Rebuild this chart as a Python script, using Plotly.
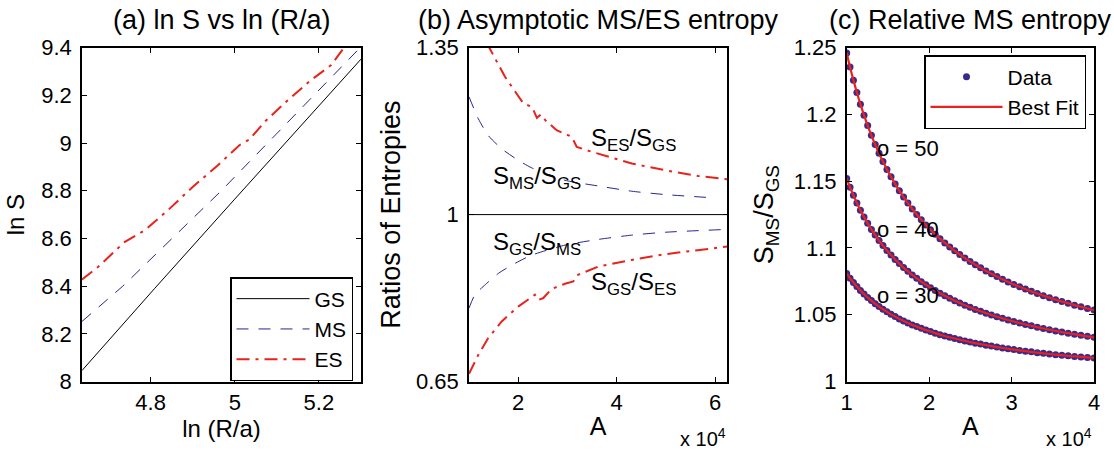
import plotly.graph_objects as go

W, H = 1114, 454
FONT = "Liberation Sans"
BLUE = "#28268c"
RED = "#e8221c"
DOT = "#3b2a8c"

# ---------------- Panel (a): ln S vs ln(R/a) ----------------
lnR_gs = [4.637, 4.809, 5.000, 5.300]
lnS_gs = [8.046, 8.389, 8.765, 9.352]
lnR_ms = [4.637, 4.734, 4.968, 5.300]
lnS_ms = [8.252, 8.400, 8.800, 9.404]
lnR_es = [4.637, 4.675, 4.738, 4.786, 4.841, 4.900, 4.960, 5.011, 5.035,
          5.071, 5.126, 5.181, 5.229, 5.261, 5.300]
lnS_es = [8.428, 8.480, 8.585, 8.634, 8.718, 8.816, 8.907, 8.991, 9.015,
          9.089, 9.180, 9.264, 9.327, 9.404, 9.470]

# ---------------- Panel (b): asymptotic ratios (A in units of 1e4) ----------------
A_es_gs = [1.36, 1.596, 1.732, 2.105, 2.28, 2.38, 2.46, 2.55, 2.78, 3.09,
           3.19, 3.39, 3.83, 4.31, 4.99, 5.66, 6.25]
r_es_gs = [1.360, 1.313, 1.289, 1.233, 1.226, 1.203, 1.210, 1.198, 1.177, 1.163,
           1.142, 1.135, 1.121, 1.107, 1.093, 1.081, 1.074]
A_ms_gs = [1.0, 1.19, 1.39, 1.665, 2.0, 2.275, 2.95, 3.63, 4.31, 4.99, 6.0]
r_ms_gs = [1.247, 1.201, 1.166, 1.138, 1.114, 1.098, 1.072, 1.060, 1.049, 1.042, 1.035]
A_gs_ms = [1.0, 1.12, 1.33, 1.6, 1.94, 2.275, 2.95, 3.63, 4.31, 4.99, 6.25]
r_gs_ms = [0.804, 0.832, 0.853, 0.877, 0.898, 0.915, 0.936, 0.948, 0.957, 0.963, 0.969]
A_gs_es = [1.0, 1.19, 1.39, 1.665, 2.0, 2.34, 2.41, 2.51, 2.68, 2.95, 3.12,
           3.20, 3.63, 4.31, 4.99, 5.66, 6.25]
r_gs_es = [0.666, 0.706, 0.741, 0.776, 0.807, 0.832, 0.821, 0.825, 0.844, 0.855, 0.860,
           0.873, 0.891, 0.905, 0.917, 0.926, 0.933]

# ---------------- Panel (c): relative MS entropy (A in units of 1e4) ----------------
A_c = [1.0000, 1.0404, 1.0816, 1.1236, 1.1664, 1.2100, 1.2544, 1.2996, 1.3456, 1.3924,
       1.4400, 1.4884, 1.5376, 1.5876, 1.6384, 1.6900, 1.7424, 1.7956, 1.8496, 1.9044,
       1.9600, 2.0164, 2.0736, 2.1316, 2.1904, 2.2500, 2.3104, 2.3716, 2.4336, 2.4964,
       2.5600, 2.6244, 2.6896, 2.7556, 2.8224, 2.8900, 2.9584, 3.0276, 3.0976, 3.1684,
       3.2400, 3.3124, 3.3856, 3.4596, 3.5344, 3.6100, 3.6864, 3.7636, 3.8416, 3.9204,
       4.0000]
ratio_o50 = [1.2460, 1.2355, 1.2257, 1.2164, 1.2077, 1.1995, 1.1917, 1.1844, 1.1775, 1.1709,
             1.1647, 1.1588, 1.1533, 1.1480, 1.1429, 1.1381, 1.1336, 1.1292, 1.1251, 1.1211,
             1.1173, 1.1137, 1.1103, 1.1070, 1.1038, 1.1008, 1.0979, 1.0951, 1.0925, 1.0899,
             1.0875, 1.0851, 1.0828, 1.0807, 1.0786, 1.0765, 1.0746, 1.0727, 1.0709, 1.0692,
             1.0675, 1.0659, 1.0643, 1.0628, 1.0613, 1.0599, 1.0586, 1.0572, 1.0560, 1.0547,
             1.0535]
ratio_o40 = [1.1520, 1.1455, 1.1394, 1.1337, 1.1283, 1.1232, 1.1185, 1.1139, 1.1097, 1.1056,
             1.1018, 1.0981, 1.0947, 1.0914, 1.0883, 1.0853, 1.0825, 1.0798, 1.0773, 1.0748,
             1.0725, 1.0703, 1.0681, 1.0661, 1.0642, 1.0623, 1.0605, 1.0588, 1.0571, 1.0556,
             1.0540, 1.0526, 1.0512, 1.0498, 1.0485, 1.0473, 1.0461, 1.0449, 1.0438, 1.0427,
             1.0417, 1.0407, 1.0397, 1.0388, 1.0379, 1.0370, 1.0362, 1.0354, 1.0346, 1.0338,
             1.0331]
ratio_o30 = [1.0808, 1.0774, 1.0741, 1.0711, 1.0682, 1.0655, 1.0630, 1.0606, 1.0583, 1.0561,
             1.0541, 1.0522, 1.0503, 1.0486, 1.0469, 1.0454, 1.0439, 1.0424, 1.0411, 1.0398,
             1.0385, 1.0374, 1.0362, 1.0351, 1.0341, 1.0331, 1.0322, 1.0313, 1.0304, 1.0295,
             1.0287, 1.0280, 1.0272, 1.0265, 1.0258, 1.0251, 1.0245, 1.0239, 1.0233, 1.0227,
             1.0222, 1.0216, 1.0211, 1.0206, 1.0201, 1.0197, 1.0192, 1.0188, 1.0184, 1.0180,
             1.0176]
sigma_labels = ["o = 50", "o = 40", "o = 30"]


def px(x):
    return x / W


def py(y):
    return 1 - y / H


ES_DASH = "13px,6px,3px,6px"
MS_DASH = "12px,10px"

fig = go.Figure()

# panel a
fig.add_trace(go.Scatter(x=lnR_gs, y=lnS_gs, mode="lines", name="GS",
                         line=dict(color="black", width=1), xaxis="x", yaxis="y"))
fig.add_trace(go.Scatter(x=lnR_ms, y=lnS_ms, mode="lines", name="MS",
                         line=dict(color=BLUE, width=1, dash=MS_DASH), xaxis="x", yaxis="y"))
fig.add_trace(go.Scatter(x=lnR_es, y=lnS_es, mode="lines", name="ES",
                         line=dict(color=RED, width=2, dash=ES_DASH), xaxis="x", yaxis="y"))

# panel b
for xs, ys, col, w, d in [
    (A_ms_gs, r_ms_gs, BLUE, 1, MS_DASH),
    (A_gs_ms, r_gs_ms, BLUE, 1, MS_DASH),
    (A_es_gs, r_es_gs, RED, 2, ES_DASH),
    (A_gs_es, r_gs_es, RED, 2, ES_DASH),
]:
    fig.add_trace(go.Scatter(x=xs, y=ys, mode="lines", showlegend=False,
                             line=dict(color=col, width=w, dash=d,
                                       shape="spline" if col == BLUE else "linear",
                                       smoothing=0.6),
                             xaxis="x2", yaxis="y2"))

# panel c
for i, ys in enumerate([ratio_o50, ratio_o40, ratio_o30]):
    fig.add_trace(go.Scatter(x=A_c, y=ys, mode="markers", name="Data",
                             legend="legend2", legendgroup="data", showlegend=(i == 0),
                             marker=dict(color=DOT, size=7, line=dict(width=0)),
                             xaxis="x3", yaxis="y3"))
for i, ys in enumerate([ratio_o50, ratio_o40, ratio_o30]):
    fig.add_trace(go.Scatter(x=A_c, y=ys, mode="lines", name="Best Fit",
                             legend="legend2", legendgroup="fit", showlegend=(i == 0),
                             line=dict(color=RED, width=2.2, shape="spline"),
                             xaxis="x3", yaxis="y3"))


def f(size):
    return dict(family=FONT, size=size, color="black")


common = dict(showline=True, linecolor="black", linewidth=1.6, mirror="ticks",
              ticks="inside", ticklen=5, tickwidth=1, tickcolor="black",
              showgrid=False, zeroline=False, tickfont=f(22), automargin=False)
xcommon = dict(common, ticklabelstandoff=0)
ycommon = dict(common, ticklabelstandoff=4)

ydom = [py(381.5), py(47.7)]
fig.update_layout(
    width=W, height=H, margin=dict(l=0, r=0, t=0, b=0),
    paper_bgcolor="white", plot_bgcolor="white",
    font=dict(family=FONT, color="black"),
    xaxis=dict(domain=[px(82), px(361)], range=[4.637, 5.30], tickvals=[4.8, 5.0, 5.2],
               title=dict(text="ln (R/a)", font=f(24), standoff=4), anchor="y", **xcommon),
    yaxis=dict(domain=ydom, range=[8, 9.4], tickvals=[8, 8.2, 8.4, 8.6, 8.8, 9, 9.2, 9.4],
               title=dict(text="ln S", font=f(24), standoff=10), anchor="x", **ycommon),
    xaxis2=dict(domain=[px(469), px(727.3)], range=[1, 6.25], tickvals=[2, 4, 6],
                title=dict(text="A", font=f(25), standoff=4), anchor="y2", **xcommon),
    yaxis2=dict(domain=ydom, range=[0.65, 1.35], tickvals=[0.65, 1, 1.35],
                ticktext=["0.65", "1", "1.35"],
                title=dict(text="Ratios of Entropies", font=f(27), standoff=8),
                anchor="x2", **ycommon),
    xaxis3=dict(domain=[px(846.7), px(1094)], range=[1, 4], tickvals=[1, 2, 3, 4],
                title=dict(text="A", font=f(25), standoff=4), anchor="y3", **xcommon),
    yaxis3=dict(domain=ydom, range=[1, 1.25], tickvals=[1, 1.05, 1.1, 1.15, 1.2, 1.25],
                title=dict(text="S<sub>MS</sub>/S<sub>GS</sub>", font=f(27), standoff=12),
                anchor="x3", **ycommon),
    legend=dict(x=px(353), y=py(381), xanchor="right", yanchor="bottom",
                bgcolor="white", bordercolor="black", borderwidth=1.5,
                font=f(21), itemwidth=73, tracegroupgap=0),
    legend2=dict(x=px(1086), y=py(55), xanchor="right", yanchor="top",
                 bgcolor="white", bordercolor="black", borderwidth=1.5,
                 font=f(21), itemwidth=72, tracegroupgap=0),
)

# horizontal reference line at ratio 1 in panel b
fig.add_shape(type="line", xref="x2 domain", x0=0, x1=1, yref="y2", y0=1, y1=1,
              line=dict(color="black", width=1))

ann = []
# panel titles
for text, cx in [("(a) ln S vs ln (R/a)", 221.5), ("(b) Asymptotic MS/ES entropy", 598),
                 ("(c) Relative MS entropy", 970)]:
    ann.append(dict(text=text, x=px(cx), y=py(20), xref="paper", yref="paper",
                    xanchor="center", yanchor="middle", showarrow=False, font=f(27)))
# ratio labels in panel b
for text, x0, yc in [("S<sub>ES</sub>/S<sub>GS</sub>", 589, 140),
                     ("S<sub>MS</sub>/S<sub>GS</sub>", 491, 178),
                     ("S<sub>GS</sub>/S<sub>MS</sub>", 491, 244),
                     ("S<sub>GS</sub>/S<sub>ES</sub>", 589, 283)]:
    ann.append(dict(text=text, x=px(x0), y=py(yc), xref="paper", yref="paper",
                    xanchor="left", yanchor="middle", showarrow=False, font=f(24)))
# sigma labels in panel c
for text, yc in zip(sigma_labels, [148, 229, 295]):
    ann.append(dict(text=text, x=px(875), y=py(yc), xref="paper", yref="paper",
                    xanchor="left", yanchor="middle", showarrow=False, font=f(22)))
# x 10^4 multipliers
for xr in [728, 1094]:
    ann.append(dict(text="x 10<sup>4</sup>", x=px(xr), y=py(437), xref="paper", yref="paper",
                    xanchor="right", yanchor="middle", showarrow=False, font=f(20)))
fig.update_layout(annotations=ann)

fig.write_html(
    "out.html",
    config={"displayModeBar": False},
    post_script="document.body.style.margin='0px';document.body.style.padding='0px';"
                "document.documentElement.style.overflow='hidden';",
)
